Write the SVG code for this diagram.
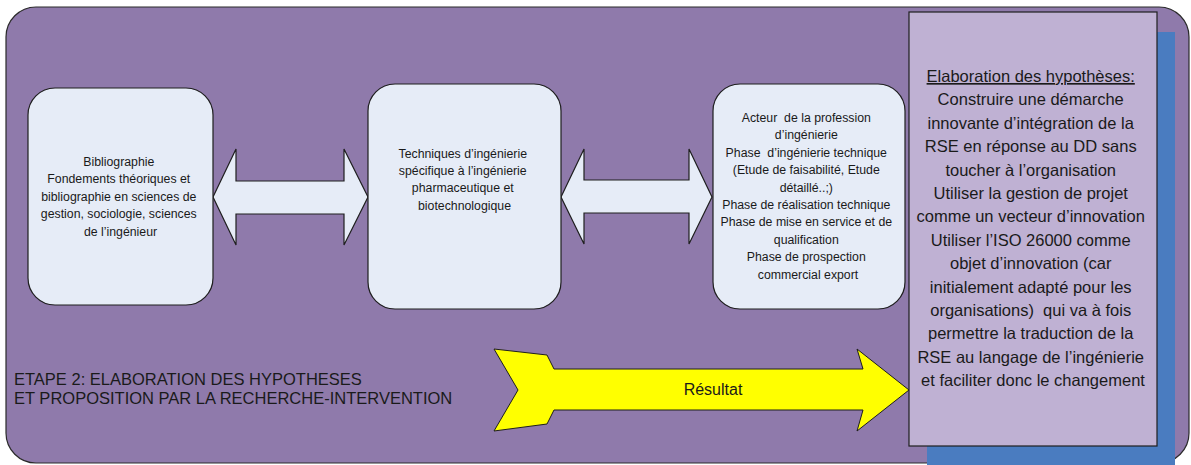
<svg xmlns="http://www.w3.org/2000/svg" width="1191" height="465" viewBox="0 0 1191 465">
<style>
.bg{fill:#8F7AAB;stroke:#2a2a2a;stroke-width:1.2}
.box{fill:#E6ECF7;stroke:#1e1e1e;stroke-width:1.2}
.arr{fill:#E6ECF7;stroke:#1e1e1e;stroke-width:1.2}
.t{font-family:"Liberation Sans",Arial,sans-serif;fill:#1a1a1a;text-anchor:middle}
.s{font-size:12.3px}
.h{font-size:16.5px}
</style>
<rect class="bg" x="6" y="7" width="1183" height="456" rx="30" ry="30"/>
<g id="etape">
<text class="t" x="14" y="385" font-size="16.5" style="text-anchor:start">ETAPE 2: ELABORATION DES HYPOTHESES</text>
<text class="t" x="14" y="404" font-size="16.5" style="text-anchor:start">ET PROPOSITION PAR LA RECHERCHE-INTERVENTION</text>
</g>
<g id="connectors">
<polygon class="arr" points="213,197 236,149 236,181 344,181 344,149 368,197 344,245 344,214 236,214 236,245"/>
<polygon class="arr" points="561,197 584,149 584,180 689,180 689,149 712,197 689,244 689,213 584,213 584,244"/>
<polygon fill="#FFFF00" stroke="#1e1e1e" stroke-width="1" points="494,349 547,355 554,369 863,369 857,349 909,390 857,431 863,410 554,410 547,424 494,431 518,390"/>
<text class="t" x="713" y="395" font-size="16">Résultat</text>
</g>
<g id="box1">
<rect class="box" x="28" y="88" width="185" height="217" rx="27" ry="27"/>
<text class="t s">
<tspan x="120.5" y="166">Bibliographie</tspan>
<tspan x="120.5" y="183.4">Fondements théoriques et</tspan>
<tspan x="120.5" y="200.8">bibliographie en sciences de</tspan>
<tspan x="120.5" y="218.2">gestion, sociologie, sciences</tspan>
<tspan x="120.5" y="235.6">de l’ingénieur</tspan>
</text>
</g>
<g id="box2">
<rect class="box" x="368" y="84" width="193" height="225" rx="27" ry="27"/>
<text class="t s">
<tspan x="464.5" y="157.5">Techniques d’ingénierie</tspan>
<tspan x="464.5" y="174.9">spécifique à l’ingénierie</tspan>
<tspan x="464.5" y="192.3">pharmaceutique et</tspan>
<tspan x="464.5" y="209.7">biotechnologique</tspan>
</text>
</g>
<g id="box3">
<rect class="box" x="713" y="84" width="192" height="225" rx="27" ry="27"/>
<text class="t s">
<tspan x="808" y="122">Acteur&#160; de la profession</tspan>
<tspan x="808" y="139.4">d’ingénierie</tspan>
<tspan x="808" y="156.8">Phase&#160; d’ingénierie technique</tspan>
<tspan x="808" y="174.2">(Etude de faisabilité, Etude</tspan>
<tspan x="808" y="191.6">détaillé..;)</tspan>
<tspan x="808" y="209">Phase de réalisation technique</tspan>
<tspan x="808" y="226.4">Phase de mise en service et de</tspan>
<tspan x="808" y="243.8">qualification</tspan>
<tspan x="808" y="261.2">Phase de prospection</tspan>
<tspan x="808" y="278.6">commercial export</tspan>
</text>
</g>
<g id="hypotheses">
<rect x="927" y="32" width="248" height="434" fill="#4A7CC0"/>
<rect x="909" y="12" width="248" height="434" fill="#BFB1D3" stroke="#1e1e1e" stroke-width="1.2"/>
<text class="t h">
<tspan x="1033" y="82" text-decoration="underline">Elaboration des hypothèses:</tspan>
<tspan x="1033" y="105.4">Construire une démarche</tspan>
<tspan x="1033" y="128.8">innovante d’intégration de la</tspan>
<tspan x="1033" y="152.2">RSE en réponse au DD sans</tspan>
<tspan x="1033" y="175.6">toucher à l’organisation</tspan>
<tspan x="1033" y="199">Utiliser la gestion de projet</tspan>
<tspan x="1033" y="222.4">comme un vecteur d’innovation</tspan>
<tspan x="1033" y="245.8">Utiliser l’ISO 26000 comme</tspan>
<tspan x="1033" y="269.2">objet d’innovation (car</tspan>
<tspan x="1033" y="292.6">initialement adapté pour les</tspan>
<tspan x="1033" y="316">organisations)&#160; qui va à fois</tspan>
<tspan x="1033" y="339.4">permettre la traduction de la</tspan>
<tspan x="1033" y="362.8">RSE au langage de l’ingénierie</tspan>
<tspan x="1033" y="386.2">et faciliter donc le changement</tspan>
</text>
</g>
</svg>
